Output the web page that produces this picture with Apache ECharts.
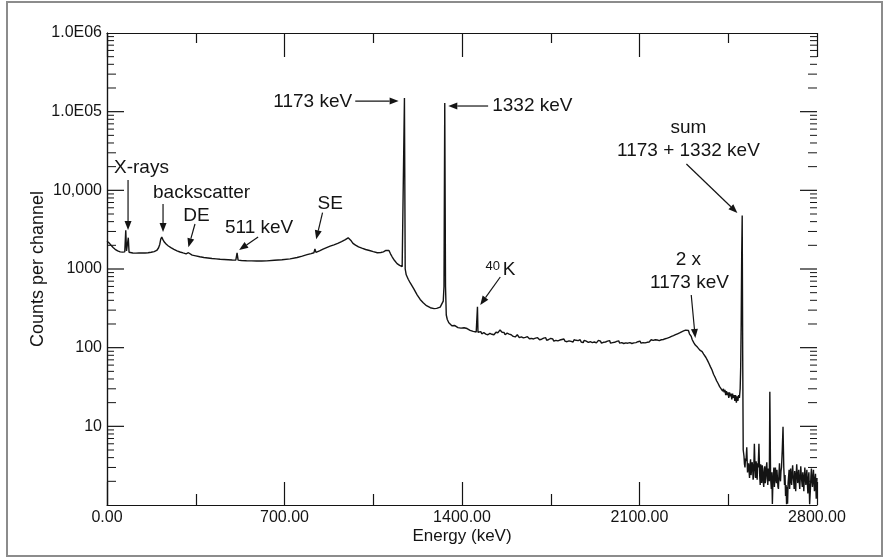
<!DOCTYPE html>
<html>
<head>
<meta charset="utf-8">
<script src="https://cdn.jsdelivr.net/npm/echarts@6/dist/echarts.min.js"></script>
<style>
html,body{margin:0;padding:0;background:#fff;}
#c{width:889px;height:560px;}
</style>
</head>
<body>
<div id="c"></div>
<script>
// ---- Data: [energy keV, counts per channel] ----
const comptonRegion = [
  [0,2250],[8,2150],[16,2000],[24,1880],[32,1780],[42,1700],[52,1650],[62,1640],[70,1650],[74,3100],[77,1700],[80,1640],[84,2500],[87,1630],[92,1610],[102,1600],[114,1590],[126,1600],[138,1595],[150,1600],[162,1610],[174,1630],[186,1660],[196,1720],[203,1850],[208,2050],[212,2400],[216,2550],[220,2380],[226,2200],[234,2060],[242,1960],[252,1870],[264,1780],[276,1700],[288,1645],[300,1600],[312,1560],[318,1545],[321,1610],[324,1530],[336,1500],[350,1470],[366,1430],[382,1400],[398,1380],[414,1360],[430,1345],[446,1330],[462,1320],[478,1310],[494,1300],[508,1295],[513,1600],[517,1295],[530,1285],[550,1275],[570,1268],[590,1265],[610,1265],
  [630,1270],[660,1290],[690,1310],[722,1345],[750,1400],[770,1460],[789,1520],[805,1570],[816,1610],[820,1800],[824,1630],[838,1700],[852,1790],[866,1870],[880,1950],[895,2030],[910,2120],[925,2230],[940,2360],[951,2490],[957,2470],[963,2280],[970,2120],[980,2010],[992,1910],[1005,1840],[1020,1770],[1035,1720],[1050,1660],[1066,1610],[1080,1620],[1090,1650],[1100,1720],[1107,1800],[1112,1720],[1118,1560],[1125,1420],[1134,1280],[1144,1170],[1154,1110],[1164,1070],[1170,1060]
];
const photopeakRegion = [
  [1173,149000],[1176,1000],[1180,845],[1188,740],[1196,664],[1210,560],[1223,470],[1235,410],[1247,372],[1260,342],[1275,322],[1290,314],[1300,316],[1306,320],[1314,328],[1320,345],[1326,390],[1329,600],[1332,129000],[1335,600],[1338,260]
];
const continuumRegion = [
  [1342,228],[1348,207],[1354,196],[1360,190],[1366,186],[1372,191],[1378,183],[1384,180],[1390,186],[1396,177],[1402,174],[1408,179],[1414,171],[1420,175],[1426,168],[1432,166],[1438,170],[1444,161],[1450,164],[1456,158],[1461,330],[1463,157],
  [1466,151],[1470,156],[1474,160],[1478,150],[1482,147],[1486,155],[1490,157],[1494,149],[1498,153],[1502,146],[1506,144],[1510,152],[1514,156],[1518,148],[1522,151],[1526,146],[1530,154],[1534,157],[1538,160],[1542,155],[1546,164],[1550,168],[1554,161],[1558,157],[1562,152],[1566,156],[1570,146],[1574,149],[1578,153],[1582,145],[1586,149],[1590,141],[1594,146],[1598,148],[1602,139],[1606,143],[1610,137],[1614,141],[1618,146],[1622,138],[1626,134],[1630,140],[1634,137],[1638,142],[1642,133],[1646,139],[1650,135],[1654,131],[1658,138],[1662,140],[1666,130],[1670,134],[1674,131],[1678,137],[1682,129],[1686,135],[1690,132],[1694,127],[1698,134],[1702,131],[1706,126],[1710,133],[1714,128],[1718,125],[1722,132],[1726,129],[1730,134],[1734,124],[1738,130],[1742,127],[1746,122],[1750,131],[1754,126],[1758,129],[1762,121],[1766,127],[1770,124],[1774,130],[1778,122],[1782,128],[1786,125],[1790,120],[1794,127],[1798,123],[1802,129],[1806,121],[1810,126],[1814,119],[1818,125],[1822,122],[1826,127],[1830,120],[1834,124],[1838,118],[1842,126],[1846,121],[1850,124],[1854,117],[1858,123],[1862,120],[1866,126],[1870,118],[1874,122],[1878,116],[1882,124],[1886,119],[1890,121],[1894,126],[1898,117],[1902,122],[1906,119],[1910,125],[1914,116],[1918,121],[1922,118],[1926,123],[1930,115],[1934,120],[1938,124],[1942,117],[1946,121],[1950,114],[1954,120],[1958,117],[1962,123],[1966,118],[1970,115],[1974,121],[1978,117],[1982,123],[1986,114],[1990,119],[1994,116],[1998,122],[2002,117],[2006,113],[2010,120],[2014,116],[2018,122],[2022,114],[2026,119],[2030,116],[2034,121],[2038,113],[2042,118],[2046,115],[2050,121],[2054,114],[2058,119],[2062,116],[2066,122],[2070,113],[2074,118],[2078,115],[2082,120],[2086,116],[2090,112],[2094,119],[2098,115],[2102,121],[2106,114],[2110,118],[2114,116],[2118,122],[2122,115],[2126,120],[2130,117],[2134,123],[2138,118],[2142,121],[2146,126],[2150,119],[2154,124],[2158,121],[2162,126],[2166,120],[2170,125],[2174,129],[2178,123],[2182,128],[2186,126],[2190,131],[2194,127],[2198,133],[2202,130],[2206,136],[2210,132],[2214,138],[2218,135],[2222,141],[2226,139],[2230,145],[2234,142],[2238,148],[2242,146],[2246,152],[2250,150],[2254,156],[2258,154],[2262,161],[2266,159],[2270,165],[2274,163],[2278,169],[2282,167],[2286,174],[2289,176]
];
const sumRegion = [
  [2293,165],[2297,150],[2300,146],[2304,139],[2308,126],[2311,122],[2314,116],[2317,112],[2320,108],[2323,109],[2326,103],[2329,101],[2332,97],[2335,98],[2338,93],[2341,91],[2344,88],[2347,89],[2350,85],[2353,83],[2356,80],[2359,79],[2362,75],[2365,73],[2368,69],[2371,67],[2374,63],[2377,61],[2380,57],[2383,56],[2386,52],[2389,50],[2392,46],[2395,46],[2398,42],[2401,41],[2404,38],[2407,37],[2410,35],[2413,35],[2416,32],[2419,33],[2422,30],[2425,31],[2428,28],[2431,30],[2434,27],[2437,29],[2440,25],[2443,28],[2446,25],[2449,27],[2452,23],[2455,27],[2458,24],[2461,26],[2464,22],[2467,26],[2470,23],[2473,25],[2476,21],[2479,25],[2482,20],[2485,24],[2488,21],[2491,25],[2494,23],[2497,30],[2499,55],[2501,200],[2503,1500],[2505,4800],[2507,80],[2509,5]
];
const highEnergyNoise = [
  [2512,4.2],[2514,3.3],[2516,3.0],[2518,3.9],[2520,3.6],[2523,5.4],[2526,2.6],[2528,3.1],[2530,3.4],[2532,2.7],[2534,2.2],[2536,3.2],[2538,3.8],[2540,2.4],[2542,2.5],[2544,3.5],[2546,3.2],[2548,2.1],[2550,2.3],[2553,6.0],[2556,2.8],[2558,2.2],[2560,3.6],[2562,2.9],[2564,2.1],[2566,3.4],[2568,3.0],[2571,6.0],[2574,2.4],[2576,1.8],[2578,3.3],[2580,2.5],[2582,1.9],[2584,3.2],[2586,2.9],[2588,2.0],[2590,1.7],[2592,2.6],[2594,3.1],[2596,1.9],[2598,2.2],[2600,3.0],[2602,3.5],[2604,2.3],[2606,1.8],[2608,2.9],[2610,2.6],[2612,2.0],[2614,27.5],[2617,2.2],[2620,1.6],[2622,2.6],[2624,1.03],[2626,1.9],[2628,2.4],[2630,3.0],[2632,1.7],[2634,2.3],[2636,3.0],[2638,2.1],[2640,1.9],[2642,2.8],[2644,2.7],[2646,1.7],[2648,1.6],[2650,2.5],[2652,3.4],[2654,2.2],[2656,2.0],[2658,2.7],[2660,3.0],[2663,5.0],[2666,9.9],[2669,3.0],[2672,1.8],[2674,2.4],[2676,1.3],[2678,1.8],[2680,1.02],[2682,1.7],[2684,1.04],[2686,1.9],[2688,2.3],[2690,2.8],[2692,1.6],[2694,2.2],[2696,2.9],[2698,2.0],[2700,1.8],[2702,2.6],[2704,3.2],[2706,2.3],[2708,2.0],[2710,1.6],[2712,2.7],[2714,2.2],[2716,1.5],[2718,2.4],[2720,3.3],[2722,2.5],[2724,1.9],[2726,2.3],[2728,2.8],[2730,2.0],[2732,1.6],[2734,2.2],[2736,3.1],[2738,2.4],[2740,2.0],[2742,1.7],[2744,2.6],[2746,2.1],[2748,1.5],[2750,2.2],[2752,3.0],[2754,2.3],[2756,1.8],[2758,2.2],[2760,2.8],[2762,1.9],[2764,1.4],[2766,2.1],[2768,2.6],[2771,1.02],[2774,1.6],[2776,2.3],[2778,2.9],[2780,2.1],[2782,1.7],[2784,2.2],[2786,2.8],[2788,1.9],[2790,1.5],[2792,2.1],[2794,2.5],[2797,1.2],[2800,2.2]
];

const xMin = 0, xMax = 2800, xInterval = 700;
const yMin = 1, yMax = 1000000;
const yTickValues = [10, 100, 1000, 10000, 100000, 1000000];
const yTickLabels = ['10', '100', '1000', '10,000', '1.0E05', '1.0E06'];
const yDecades = [1, 10, 100, 1000, 10000, 100000];
const yMinorSteps = [2, 3, 4, 5, 6, 7, 8, 9];

// ---- Annotations (anchored in data coordinates) ----
const labels = [
  {text: 'X-rays', at: [136, 19200], align: 'center'},
  {text: 'backscatter', at: [373, 9330], align: 'center'},
  {text: 'DE', at: [353, 4720], align: 'center'},
  {text: '511 keV', at: [600, 3350], align: 'center'},
  {text: 'SE', at: [880, 6840], align: 'center'},
  {text: '1173 keV', at: [967, 132700], align: 'right'},
  {text: '1332 keV', at: [1519, 118000], align: 'left'},
  {text: 'sum', at: [2293, 62000], align: 'center'},
  {text: '1173 + 1332 keV', at: [2293, 31600], align: 'center'},
  {text: '2 x', at: [2293, 1300], align: 'center'},
  {text: '1173 keV', at: [2297, 664], align: 'center'},
  {text: '40', at: [1521, 1092], align: 'center', small: true},
  {text: 'K', at: [1586, 971], align: 'center'}
];
const arrows = [
  {from: [83, 13500], to: [83, 3130]},
  {from: [221, 6700], to: [221, 2950]},
  {from: [347, 3730], to: [321, 1888]},
  {from: [596, 2550], to: [521, 1743]},
  {from: [850, 5200], to: [825, 2385]},
  {from: [979, 136300], to: [1150, 136300]},
  {from: [1503, 118000], to: [1346, 118000]},
  {from: [2285, 21600], to: [2486, 5150]},
  {from: [2304, 467], to: [2320, 133]},
  {from: [1551, 791], to: [1472, 349]}
];

const FONT = '"Liberation Sans", Arial, Helvetica, sans-serif';
const INK = '#141414';

const spectrum = [].concat(comptonRegion, photopeakRegion, continuumRegion, sumRegion, highEnergyNoise);

const chart = echarts.init(document.getElementById('c'), null, {renderer: 'canvas'});

const axisLineStyle = {color: INK, width: 1.2};

function yLabel(v) {
  let best = 0, bd = Infinity;
  yTickValues.forEach((t, i) => { const d = Math.abs(Math.log10(t) - Math.log10(v)); if (d < bd) { bd = d; best = i; } });
  return yTickLabels[best];
}

const option = {
  animation: false,
  backgroundColor: '#ffffff',
  textStyle: {fontFamily: FONT},
  grid: {left: 107, right: 72, top: 33, bottom: 55, containLabel: false},
  xAxis: [
    {
      type: 'value', min: xMin, max: xMax, interval: xInterval, position: 'bottom',
      axisLine: {show: true, lineStyle: axisLineStyle},
      axisTick: {show: true, inside: true, length: 23, lineStyle: axisLineStyle},
      minorTick: {show: true, splitNumber: 2, length: 11, lineStyle: axisLineStyle},
      axisLabel: {formatter: v => v.toFixed(2), fontSize: 16, color: INK, margin: 5, fontFamily: FONT},
      splitLine: {show: false},
      name: 'Energy (keV)', nameLocation: 'middle', nameGap: 23, nameMoveOverlap: false,
      nameTextStyle: {fontSize: 17, color: INK, fontFamily: FONT}
    },
    {
      type: 'value', min: xMin, max: xMax, interval: xInterval, position: 'top',
      axisLine: {show: true, lineStyle: axisLineStyle},
      axisTick: {show: true, inside: true, length: 24, lineStyle: axisLineStyle},
      minorTick: {show: true, splitNumber: 2, length: 10, lineStyle: axisLineStyle},
      axisLabel: {show: false},
      splitLine: {show: false}
    }
  ],
  yAxis: [
    {
      type: 'log', logBase: 10, min: yMin, max: yMax, position: 'left',
      axisLine: {show: true, lineStyle: axisLineStyle},
      axisTick: {show: false},
      axisLabel: {show: true, customValues: yTickValues, formatter: yLabel, fontSize: 16, color: INK, margin: 5, fontFamily: FONT},
      splitLine: {show: false}, minorTick: {show: false}, minorSplitLine: {show: false},
      name: 'Counts per channel', nameLocation: 'middle', nameGap: 60, nameMoveOverlap: false,
      nameTextStyle: {fontSize: 18, color: INK, fontFamily: FONT}
    },
    {
      type: 'log', logBase: 10, min: yMin, max: yMax, position: 'right',
      axisLine: {show: true, lineStyle: axisLineStyle},
      axisTick: {show: false}, axisLabel: {show: false},
      splitLine: {show: false}, minorTick: {show: false}, minorSplitLine: {show: false}
    }
  ],
  series: [{
    type: 'line',
    xAxisIndex: 0, yAxisIndex: 0,
    data: spectrum,
    showSymbol: false, symbol: 'none',
    lineStyle: {color: INK, width: 1.4},
    silent: true, clip: true, sampling: null
  }]
};

chart.setOption(option);

function toPx(p) { return chart.convertToPixel({xAxisIndex: 0, yAxisIndex: 0}, p); }

const graphics = [{
  type: 'rect', silent: true,
  shape: {x: 7, y: 2, width: 875, height: 554},
  style: {fill: 'none', stroke: '#8c8c8c', lineWidth: 2}
}];

// Log-axis ticks (major at decades, minor at 2..9), placed through the axis scale, both sides, inward
function addYTick(v, len, w) {
  const l = toPx([xMin, v]), r = toPx([xMax, v]);
  graphics.push({type: 'line', silent: true, z: 100, shape: {x1: l[0], y1: l[1], x2: l[0] + len, y2: l[1]}, style: {stroke: INK, lineWidth: w}});
  graphics.push({type: 'line', silent: true, z: 100, shape: {x1: r[0], y1: r[1], x2: r[0] - len, y2: r[1]}, style: {stroke: INK, lineWidth: w}});
}
yTickValues.slice(0, -1).forEach(v => addYTick(v, 17, 1.2));
yDecades.forEach(d => yMinorSteps.forEach(k => addYTick(k * d, (k <= 3 ? 9 : 7), 1)));

labels.forEach(l => {
  const p = toPx(l.at);
  graphics.push({
    type: 'text', silent: true, x: p[0], y: p[1],
    style: {text: l.text, font: (l.small ? '13px ' : '19px ') + FONT, fill: INK, align: l.align, verticalAlign: 'middle'}
  });
});

arrows.forEach(a => {
  const s = toPx(a.from), e = toPx(a.to);
  const dx = e[0] - s[0], dy = e[1] - s[1];
  const len = Math.sqrt(dx * dx + dy * dy) || 1;
  const ux = dx / len, uy = dy / len;
  const hl = 9, hw = 3.5;
  const bx = e[0] - ux * hl, by = e[1] - uy * hl;
  graphics.push({
    type: 'line', silent: true,
    shape: {x1: s[0], y1: s[1], x2: bx, y2: by},
    style: {stroke: INK, lineWidth: 1.2}
  });
  graphics.push({
    type: 'polygon', silent: true,
    shape: {points: [[e[0], e[1]], [bx - uy * hw, by + ux * hw], [bx + uy * hw, by - ux * hw]]},
    style: {fill: INK}
  });
});

chart.setOption({graphic: graphics});
</script>
</body>
</html>
